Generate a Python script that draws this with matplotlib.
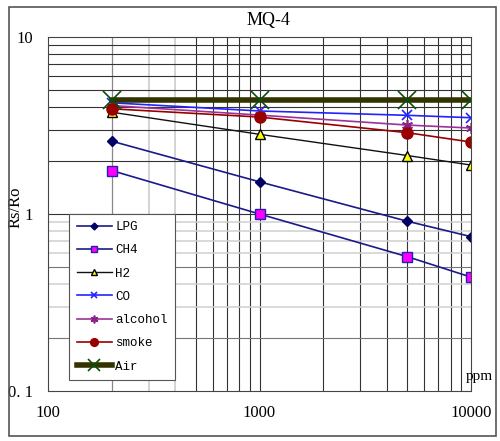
import numpy as np
import matplotlib.pyplot as plt
from matplotlib.patches import Rectangle

ppm = [200, 1000, 5000, 10000]

lpg = [2.58, 1.52, 0.91, 0.745]
ch4 = [1.76, 1.0, 0.574, 0.44]
h2 = [3.76, 2.82, 2.14, 1.89]
co = [4.25, 3.82, 3.61, 3.50]
alcohol = [4.1, 3.62, 3.18, 3.06]
smoke = [3.93, 3.53, 2.88, 2.55]
air = [4.4, 4.4, 4.4, 4.4]

serif = ['Liberation Serif', 'DejaVu Serif']
mono = ['Liberation Mono', 'DejaVu Sans Mono']

fig = plt.figure(figsize=(5, 4.41), dpi=100)
fig.patches.append(Rectangle((9 / 500, 1 - 436 / 441), 487 / 500, 429 / 441,
                             transform=fig.transFigure, fill=False,
                             edgecolor='#555555', lw=1.2))
ax = fig.add_axes([48 / 500, 1 - 391 / 441, 423 / 500, 354 / 441])
ax.set_xscale('log')
ax.set_yscale('log')
ax.set_xlim(100, 10000)
ax.set_ylim(0.1, 10)

# grid
for x in [200]:
    ax.axvline(x, color='#888888', lw=0.9, zorder=0)
for x in [300, 400]:
    ax.axvline(x, color='#cccccc', lw=1.2, zorder=0)
for x in [500, 600, 700, 800, 900, 1000, 2000, 3000, 4000, 5000, 6000, 7000, 8000, 9000]:
    ax.axvline(x, color='#333333', lw=0.8, zorder=0)
for y in [1, 2, 3, 4, 5, 6, 7, 8, 9]:
    ax.axhline(y, color='#333333', lw=0.8, zorder=0)
for y in [0.2, 0.5]:
    ax.axhline(y, color='#777777', lw=0.8, zorder=0)
for y in [0.3, 0.4, 0.6, 0.7, 0.8, 0.9]:
    ax.axhline(y, color='#d0d0d0', lw=1.1, zorder=0)

ax.plot(ppm, lpg, color='#1a1a8c', lw=1.2, marker='D', ms=5,
        mfc='#000066', mec='#000066', label='LPG')
ax.plot(ppm, ch4, color='#1a1a8c', lw=1.2, marker='s', ms=7,
        mfc='#ff00ff', mec='#2222aa', label='CH4')
ax.plot(ppm, h2, color='#111111', lw=1.0, marker='^', ms=7,
        mfc='#ffff00', mec='#000000', label='H2')
ax.plot(ppm, co, color='#2222ff', lw=1.2, marker='x', ms=7,
        mec='#2222ff', mew=1.2, label='CO')
ax.plot(ppm, alcohol, color='#993399', lw=1.2, marker=(6, 2, 0), ms=8,
        mec='#882288', mew=1.2, label='alcohol')
ax.plot(ppm, smoke, color='#990000', lw=1.2, marker='o', ms=8,
        mfc='#990000', mec='#990000', label='smoke')
ax.plot(ppm, air, color='#333300', lw=4, marker='x', ms=13,
        mec='#0b4d0b', mew=1.2, label='Air')

ax.set_xticks([100, 1000, 10000])
ax.set_xticklabels(['100', '1000', '10000'], family=serif, fontsize=12)
ax.set_yticks([0.1, 1, 10])
ax.set_yticklabels(['0. 1', '1', '10'], family=serif, fontsize=12)
ax.minorticks_off()
ax.tick_params(axis='x', length=0, pad=10)
ax.tick_params(axis='y', length=0, pad=11)
for s in ax.spines.values():
    s.set_color('#444444')

ax.set_title('MQ-4', family=serif, fontsize=13, pad=9, x=0.52)
ax.set_ylabel('Rs/Ro', family=serif, fontsize=12)
ax.yaxis.set_label_coords(-0.058, 0.52)
ax.text(1.052, 0.042, 'ppm', transform=ax.transAxes, ha='right', va='center',
        family=serif, fontsize=11, clip_on=False)

leg = ax.legend(loc='lower left', bbox_to_anchor=(0.05, 0.031), borderaxespad=0,
                prop={'family': mono, 'size': 9}, fancybox=False, framealpha=1,
                edgecolor='#555555', handlelength=2.8, handletextpad=0.3,
                labelspacing=0.9, borderpad=0.6, markerscale=0.7)
leg.get_frame().set_linewidth(0.8)

fig.savefig('out.png', dpi=100)
